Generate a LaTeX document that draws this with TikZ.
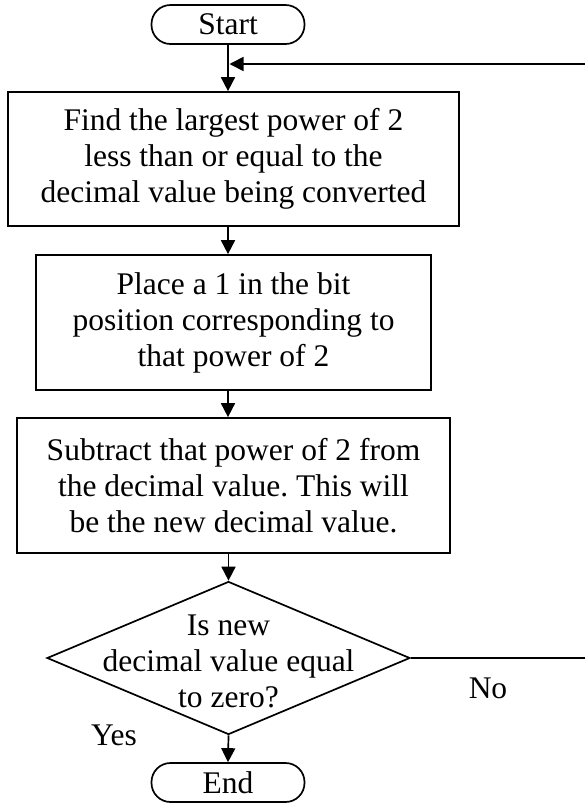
\documentclass[tikz,border=0pt]{standalone}
\usepackage{fontspec}
\setmainfont{Liberation Serif}
\usetikzlibrary{arrows.meta,shapes.geometric}
\frenchspacing
\begin{document}
\begin{tikzpicture}[x=1pt,y=-1pt,
  every node/.style={font=\fontsize{31.5}{36}\selectfont, text=black},
  line/.style={draw=black, line width=1.7pt},
  arr/.style={line, -{Triangle[length=14pt,width=14pt]}},
  term/.style={line, rectangle, rounded corners=19pt, minimum width=153pt, minimum height=39pt, inner sep=0pt},
  procbox/.style={line, rectangle, inner sep=0pt, align=center},
  decbox/.style={line, diamond, inner sep=0pt, minimum width=363pt, minimum height=153pt},
  lbl/.style={inner sep=0pt}
]
\useasboundingbox (0,0) rectangle (585,804);
\node[term] (start) at (228,24.5) {Start};
\node[procbox, minimum width=451pt, minimum height=134pt] (box1) at (233.5,159)
  {Find the largest power of 2\\less than or equal to the\\decimal value being converted};
\node[procbox, minimum width=395pt, minimum height=135pt] (box2) at (233.5,322.5)
  {Place a 1 in the bit\\position corresponding to\\that power of 2};
\node[procbox, minimum width=433pt, minimum height=135pt] (box3) at (233.5,485.5)
  {Subtract that power of 2 from\\the decimal value. This will\\be the new decimal value.};
\node[decbox] (dec) at (228.5,658) {};
\node[lbl, align=center] (dectext) at (228.5,661) {Is new\\decimal value equal\\to zero?};
\node[term] (end) at (228,782.5) {End};
\node[lbl] (no) at (488,688) {No};
\node[lbl] (yes) at (114,735) {Yes};
\coordinate (join) at (229.5,64);
\coordinate (rightc) at (592,64);

\draw[arr] (start.south) -- (start.south |- box1.north);
\draw[arr] (box1.south -| start.south) -- (box2.north -| start.south);
\draw[arr] (box2.south -| start.south) -- (box3.north -| start.south);
\draw[arr] (box3.south -| dec.north) -- (dec.north);
\draw[arr] (dec.south) -- (end.north);
\draw[arr] (dec.east) -- (dec.east -| rightc) -- (rightc) -- (join);
\end{tikzpicture}
\end{document}
